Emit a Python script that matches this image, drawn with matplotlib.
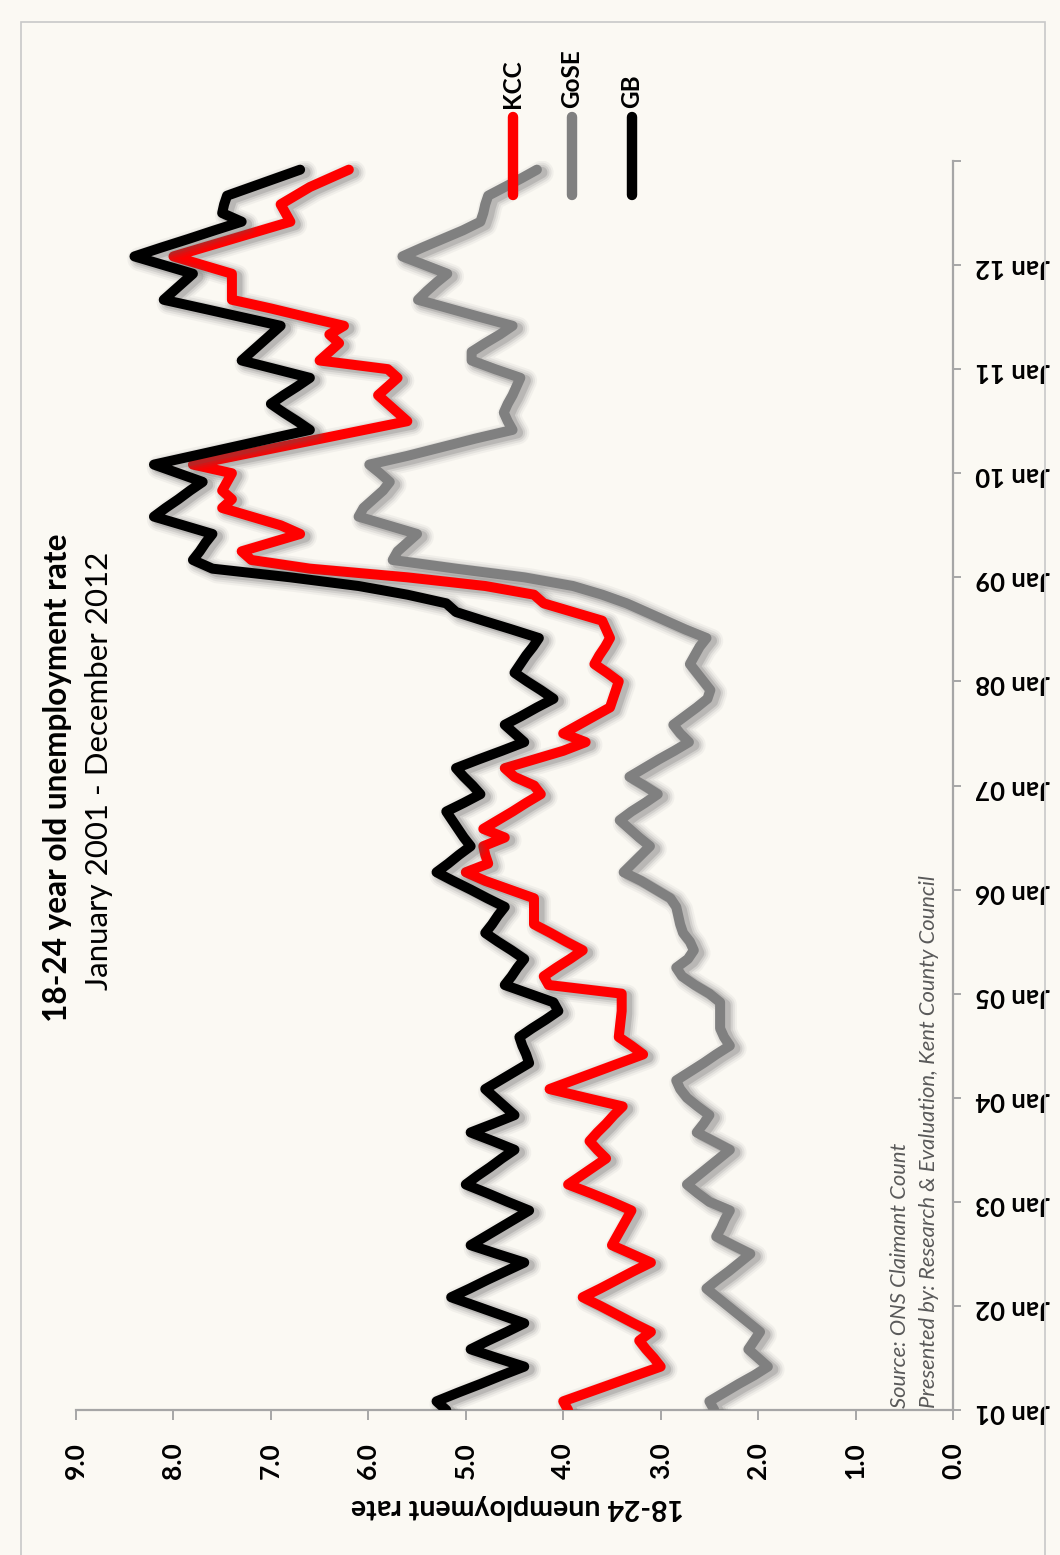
import numpy as np
import matplotlib
matplotlib.use('Agg')
import matplotlib.pyplot as plt
import matplotlib.patheffects as pe
from matplotlib.lines import Line2D
from matplotlib.patches import Rectangle

# 18-24 claimant rate, monthly Jan 2001 - Dec 2012 (one row per year)
kcc = [3.95, 4.0, 3.75, 3.5, 3.25, 3.0, 3.07, 3.15, 3.22, 3.1, 3.28, 3.45,
       3.62, 3.8, 3.62, 3.45, 3.28, 3.1, 3.3, 3.5, 3.45, 3.4, 3.35, 3.3,
       3.5, 3.72, 3.95, 3.82, 3.69, 3.56, 3.65, 3.73, 3.65, 3.56, 3.48, 3.39,
       3.77, 4.14, 3.9, 3.66, 3.42, 3.18, 3.3, 3.43, 3.42, 3.41, 3.4, 3.4,
       3.4, 4.15, 4.2, 4.07, 3.93, 3.8, 3.97, 4.13, 4.3, 4.3, 4.3, 4.3,
       4.55, 4.8, 5.0, 4.77, 4.8, 4.82, 4.6, 4.82, 4.67, 4.52, 4.38, 4.23,
       4.3, 4.5, 4.6, 4.3, 4.0, 3.77, 4.0, 3.84, 3.68, 3.52, 3.49, 3.46,
       3.43, 3.55, 3.68, 3.63, 3.57, 3.52, 3.56, 3.6, 3.9, 4.2, 4.3, 4.8,
       5.6, 6.6, 7.2, 7.3, 7.0, 6.7, 6.9, 7.2, 7.5, 7.4, 7.5, 7.45,
       7.4, 7.8, 7.36, 6.92, 6.48, 6.04, 5.6, 5.7, 5.8, 5.9, 5.8, 5.7,
       5.8, 6.5, 6.4, 6.3, 6.4, 6.25, 6.63, 7.0, 7.4, 7.4, 7.4, 7.4,
       7.7, 8.0, 7.7, 7.4, 7.1, 6.8, 6.85, 6.9, 6.75, 6.6, 6.4, 6.2]

gose = [2.45, 2.5, 2.35, 2.2, 2.04, 1.9, 2.0, 2.1, 2.04, 1.98, 2.09, 2.2,
        2.31, 2.42, 2.53, 2.42, 2.3, 2.19, 2.08, 2.26, 2.43, 2.38, 2.34, 2.29,
        2.5, 2.62, 2.73, 2.62, 2.51, 2.4, 2.29, 2.46, 2.63, 2.56, 2.5, 2.62,
        2.73, 2.8, 2.84, 2.7, 2.56, 2.43, 2.29, 2.35, 2.39, 2.39, 2.39, 2.39,
        2.5, 2.65, 2.78, 2.84, 2.72, 2.66, 2.7, 2.77, 2.8, 2.82, 2.84, 2.9,
        3.05, 3.2, 3.38, 3.29, 3.2, 3.11, 3.22, 3.32, 3.42, 3.3, 3.16, 3.03,
        3.17, 3.32, 3.17, 3.02, 2.86, 2.71, 2.8, 2.87, 2.75, 2.63, 2.52, 2.49,
        2.56, 2.63, 2.7, 2.65, 2.6, 2.53, 2.75, 2.95, 3.15, 3.35, 3.6, 3.9,
        4.4, 5.1, 5.75, 5.7, 5.6, 5.5, 5.8, 6.1, 6.05, 5.95, 5.85, 5.78,
        5.88, 5.99, 5.6, 5.25, 4.9, 4.52, 4.57, 4.61, 4.57, 4.52, 4.48, 4.44,
        4.7, 4.94, 4.94, 4.8, 4.65, 4.52, 4.85, 5.17, 5.49, 5.4, 5.3, 5.19,
        5.42, 5.65, 5.45, 5.24, 5.03, 4.85, 4.82, 4.8, 4.77, 4.6, 4.43, 4.27]

gb = [5.2, 5.3, 5.08, 4.85, 4.63, 4.4, 4.68, 4.95, 4.77, 4.58, 4.4, 4.65,
      4.9, 5.15, 4.96, 4.78, 4.59, 4.4, 4.68, 4.95, 4.8, 4.65, 4.5, 4.35,
      4.57, 4.78, 5.0, 4.88, 4.75, 4.63, 4.5, 4.72, 4.95, 4.72, 4.5, 4.6,
      4.7, 4.8, 4.65, 4.5, 4.35, 4.38, 4.42, 4.45, 4.32, 4.18, 4.05, 4.1,
      4.35, 4.6, 4.53, 4.47, 4.4, 4.53, 4.67, 4.8, 4.73, 4.67, 4.6, 4.78,
      4.95, 5.13, 5.3, 5.18, 5.07, 4.95, 5.02, 5.08, 5.14, 5.2, 5.02, 4.85,
      4.93, 5.02, 5.1, 4.87, 4.63, 4.4, 4.5, 4.6, 4.43, 4.27, 4.1, 4.23,
      4.37, 4.5, 4.44, 4.38, 4.31, 4.25, 4.53, 4.82, 5.1, 5.2, 5.6, 6.1,
      6.8, 7.6, 7.8, 7.73, 7.67, 7.6, 7.9, 8.2, 8.08, 7.95, 7.83, 7.7,
      7.95, 8.2, 7.8, 7.4, 7.0, 6.6, 6.73, 6.87, 7.0, 6.87, 6.73, 6.6,
      6.95, 7.3, 7.2, 7.1, 7.0, 6.9, 7.3, 7.7, 8.1, 8.0, 7.9, 7.8,
      8.1, 8.4, 8.13, 7.85, 7.58, 7.3, 7.5, 7.48, 7.45, 7.2, 6.95, 6.7]

series_names = ['KCC', 'GoSE', 'GB']
series_colors = ['#ff0000', '#808080', '#000000']
year_labels = ['Jan 01', 'Jan 02', 'Jan 03', 'Jan 04', 'Jan 05', 'Jan 06',
               'Jan 07', 'Jan 08', 'Jan 09', 'Jan 10', 'Jan 11', 'Jan 12']
rate_ticks = [0, 1, 2, 3, 4, 5, 6, 7, 8, 9]

BG = '#fbf9f3'
AXIS = '#a6a6a6'
W, H = 1060, 1555

plt.rcParams['font.family'] = ['Lato', 'DejaVu Sans']


def fx(px):
    return px / W


def fy(py):
    return 1 - py / H


fig = plt.figure(figsize=(W / 100, H / 100), dpi=100, facecolor=BG)
fig.add_artist(Rectangle((fx(21), fy(1556)), fx(1045) - fx(21), fy(22) - fy(1556),
                         transform=fig.transFigure, fill=False,
                         edgecolor='#c8c8c8', lw=1.2))

# chart is laid on its side: rate runs right-to-left, time runs upward
ax = fig.add_axes([fx(76), fy(1410), fx(953) - fx(76), fy(161) - fy(1410)])
ax.set_facecolor(BG)

months = np.arange(len(gb))
lw = 7.2
glow = [pe.SimpleLineShadow(offset=(3.5, -2), shadow_color='#5a5a5a', alpha=a, linewidth=lw + w)
        for w, a in [(10, 0.06), (7, 0.09), (4, 0.13), (1, 0.2)]]

for vals, color in zip([gose, kcc, gb], [series_colors[1], series_colors[0], series_colors[2]]):
    ax.plot(vals, months, color=color, lw=lw, solid_capstyle='round',
            solid_joinstyle='round', path_effects=glow + [pe.Normal()], zorder=3)

ax.set_xlim(9, 0)
ax.set_ylim(0, 144)

for side in ['top', 'left']:
    ax.spines[side].set_visible(False)
for side in ['bottom', 'right']:
    ax.spines[side].set_color(AXIS)
    ax.spines[side].set_linewidth(1.6)

ax.set_xticks(rate_ticks)
ax.set_xticklabels(['%.1f' % v for v in rate_ticks], rotation=90, fontsize=19,
                   fontweight='bold')
ax.tick_params(axis='x', direction='out', length=7, width=1.4, color=AXIS, pad=16)

ax.yaxis.tick_right()
ax.set_yticks(np.arange(0, 145, 12))
ax.set_yticklabels(year_labels + [''], rotation=180, fontsize=18.5, fontweight='bold')
ax.tick_params(axis='y', direction='out', length=6, width=1.4, color=AXIS, pad=10)

fig.text(fx(58), fy(778), '18-24 year old unemployment rate', rotation=90,
         ha='center', va='center', fontsize=22.7, fontweight='bold')
fig.text(fx(99), fy(771), 'January 2001 - December 2012', rotation=90,
         ha='center', va='center', fontsize=22.5)
fig.text(fx(517), fy(1507), '18-24 unemployment rate', rotation=180,
         ha='center', va='center', fontsize=20.5, fontweight='bold')

# legend, stacked along the top edge
for name, color, px in zip(series_names, series_colors, [513, 572, 632]):
    fig.add_artist(Line2D([fx(px), fx(px)], [fy(195), fy(117)], transform=fig.transFigure,
                          color=color, lw=7.5, solid_capstyle='round'))
    fig.text(fx(px), fy(108), name, rotation=90, ha='center', va='bottom',
             fontsize=17.5, fontweight='bold')

fig.text(fx(900), fy(1408), 'Source: ONS Claimant Count', rotation=90,
         ha='center', va='bottom', fontsize=15.8, style='italic', color='#595959')
fig.text(fx(929), fy(1408), 'Presented by: Research & Evaluation, Kent County Council',
         rotation=90, ha='center', va='bottom', fontsize=15.8, style='italic', color='#595959')

fig.savefig('out.png', dpi=100, facecolor=BG)
